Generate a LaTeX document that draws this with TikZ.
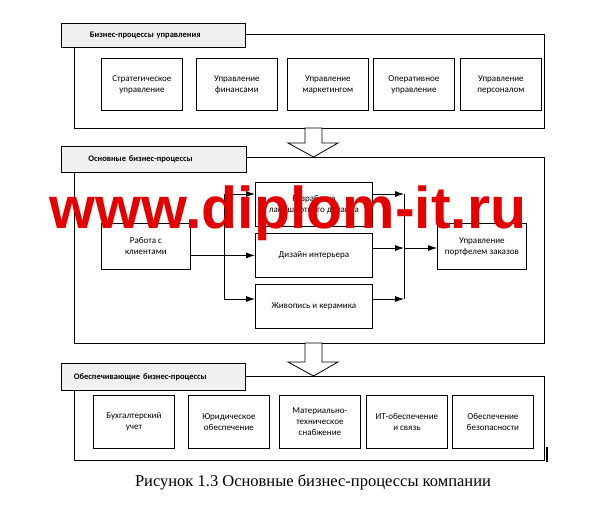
\documentclass[tikz,border=0pt]{standalone}
\usepackage{fontspec}
\setmainfont{Liberation Serif}
\newfontfamily\boxfont{Carlito}
\newfontfamily\wmfont{Liberation Sans}
\usetikzlibrary{arrows.meta}
\begin{document}
\begin{tikzpicture}[x=1pt,y=-1pt,
  frame/.style={draw,line width=0.8pt},
  tab/.style={draw,line width=0.8pt,fill=gray!12,font=\boxfont\bfseries\fontsize{8.5}{9}\selectfont,anchor=north west,inner sep=0pt,align=left,text width=175pt},
  pbox/.style={draw,line width=0.8pt,fill=white,font=\boxfont\fontsize{9}{11}\selectfont,align=center,anchor=north west,inner sep=0pt},
  conn/.style={line width=0.8pt},
  arr/.style={conn,-{Latex[length=9pt,width=6pt]}},
  bigarrow/.style={draw,line width=0.8pt,fill=white}]
\useasboundingbox (0,0) rectangle (600,507);
% section 1
\draw[frame] (74,34) rectangle (544,128);
\node[tab,minimum width=184pt,minimum height=24pt] (t1) at (61,23) {\hspace*{24pt}Бизнес-процессы управления};
\foreach \n/\x/\t in {a1/101/{Стратегическое\\управление},a2/196/{Управление\\финансами},a3/287/{Управление\\маркетингом},a4/373/{Оперативное\\управление},a5/460/{Управление\\персоналом}}
  \node[pbox,minimum width=81pt,minimum height=52pt] (\n) at (\x,58) {\t};
% arrow 1
\draw[bigarrow] (305,128) -- (322,128) -- (322,143) -- (338,143) -- (313.5,157) -- (288,143) -- (305,143) -- cycle;
% section 2
\draw[frame] (74,157) rectangle (544,343);
\node[tab,minimum width=185pt,minimum height=26pt] (t2) at (61,146) {\hspace*{22pt}Основные бизнес-процессы};
\node[pbox,minimum width=89pt,minimum height=46pt] (c) at (101,223) {Работа с\\клиентами};
\node[pbox,minimum width=117pt,minimum height=44pt] (b1) at (255,182) {Разработка\\ландшафтного дизайна};
\node[pbox,minimum width=117pt,minimum height=44pt] (b2) at (255,233) {Дизайн интерьера};
\node[pbox,minimum width=117pt,minimum height=44pt] (b3) at (255,284) {Живопись и керамика};
\node[pbox,minimum width=89pt,minimum height=46pt] (p) at (437,223) {Управление\\портфелем заказов};
\coordinate (s1) at (224,194); \coordinate (s3) at (224,299);
\coordinate (m1) at (404,194); \coordinate (m2) at (404,248); \coordinate (m3) at (404,299);
\draw[conn] (s1) -- (s3);
\draw[arr] (c.east |- b2.west) -- (b2.west);
\draw[arr] (s1) -- (s1 -| b1.west);
\draw[arr] (s3) -- (s3 -| b3.west);
\draw[arr] (b1.east |- m1) -- (m1);
\draw[arr] (b2.east |- m2) -- (m2);
\draw[arr] (b3.east |- m3) -- (m3);
\draw[conn] (m1) -- (m3);
\draw[arr] (m2) -- (m2 -| p.west);
% arrow 2
\draw[bigarrow] (305,343) -- (322,343) -- (322,362) -- (338,362) -- (313.5,376) -- (288,362) -- (305,362) -- cycle;
% section 3
\draw[frame] (74,376) rectangle (544,460);
\node[tab,minimum width=184pt,minimum height=27pt] (t3) at (61,363) {\hspace*{8pt}Обеспечивающие бизнес-процессы};
\foreach \n/\x/\t in {d1/93/{Бухгалтерский\\учет},d2/188/{Юридическое\\обеспечение},d3/279/{Материально-\\техническое\\снабжение},d4/366/{ИТ-обеспечение\\и связь},d5/452/{Обеспечение\\безопасности}}
  \node[pbox,minimum width=81pt,minimum height=53pt] (\n) at (\x,395) {\t};
\draw[line width=1.5pt] (547,447) -- (547,462);
\node[font=\fontsize{16.5}{18}\selectfont] (cap) at (313,482) {Рисунок 1.3 Основные бизнес-процессы компании};
% watermark
\node[font=\wmfont\bfseries\fontsize{59}{60}\selectfont,text=red!90!black,anchor=base] (wm) at (288,228) {www.diplom-it.ru};
\end{tikzpicture}
\end{document}
